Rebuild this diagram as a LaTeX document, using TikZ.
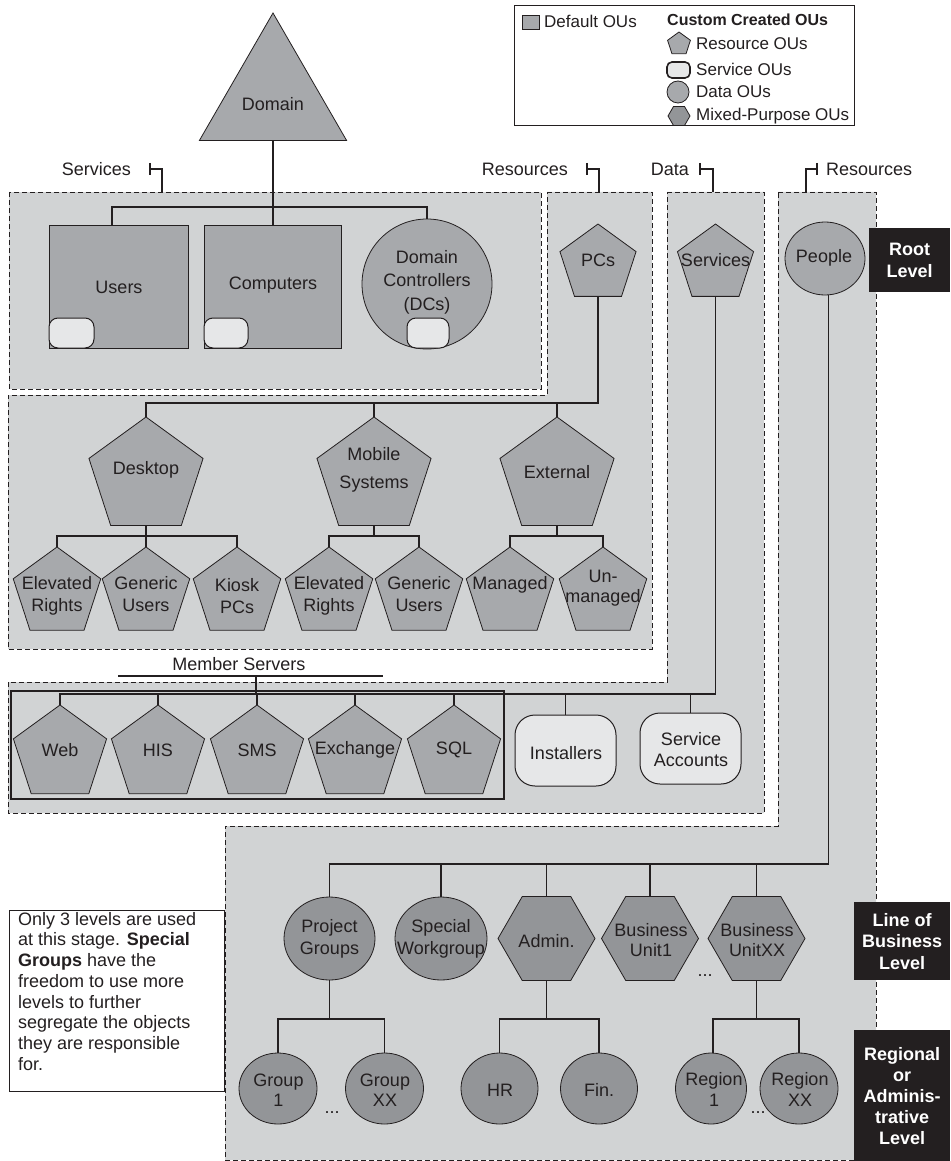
\documentclass[tikz,border=0pt]{standalone}
\usepackage{fontspec}
\setmainfont{Liberation Sans}
\usetikzlibrary{shapes.geometric,calc}

\definecolor{ink}{HTML}{231F20}
\definecolor{regionfill}{HTML}{D1D3D4}
\definecolor{ougray}{HTML}{A7A9AC}
\definecolor{oudark}{HTML}{939598}
\definecolor{svcfill}{HTML}{E6E7E8}

\begin{document}
\begin{tikzpicture}[x=1pt,y=-1pt,
  region/.style={draw=ink,fill=regionfill,line width=0.9pt,dash pattern=on 5pt off 3pt},
  conn/.style={draw=ink,line width=1.1pt},
  defou/.style={rectangle,draw=ink,fill=ougray,line width=0.8pt,inner sep=0pt,outer sep=0pt},
  pent/.style={regular polygon,regular polygon sides=5,draw=ink,fill=ougray,line width=0.8pt,inner sep=0pt,outer sep=0pt},
  hexa/.style={regular polygon,regular polygon sides=6,draw=ink,fill=oudark,line width=0.8pt,inner sep=0pt,outer sep=0pt},
  dataou/.style={ellipse,draw=ink,fill=oudark,line width=0.8pt,inner sep=0pt,outer sep=0pt},
  svcou/.style={rectangle,draw=ink,fill=svcfill,line width=1pt,inner sep=0pt,outer sep=0pt},
  txt/.style={inner sep=0pt,align=center,text=ink,font=\fontsize{18}{21.5}\selectfont},
  lgtxt/.style={inner sep=0pt,anchor=west,text=ink,font=\fontsize{17}{20}\selectfont},
  lvl/.style={rectangle,fill=ink,text=white,inner sep=0pt,anchor=north west,align=center,
              font=\bfseries\fontsize{18}{21.5}\selectfont},
  dots/.style={inner sep=0pt,text=ink,font=\fontsize{18}{20}\selectfont}
]
\useasboundingbox (0,0) rectangle (950,1161);
\fill[white] (0,0) rectangle (950,1161);

% ---------- shaded OU regions ----------
\path[region] (9,192) rectangle (541,389);
\path[region] (547,192) -- (652,192) -- (652,649) -- (8,649) -- (8,395) -- (547,395) -- cycle;
\path[region] (667,192) -- (764,192) -- (764,813) -- (8,813) -- (8,682) -- (667,682) -- cycle;
\path[region] (778,192) -- (876,192) -- (876,1160) -- (225,1160) -- (225,826) -- (778,826) -- cycle;

% ---------- region labels with brackets ----------
\node[txt,anchor=east] (lblSvc) at (131,169) {Services};
\node[txt,anchor=east] (lblRes) at (568,169) {Resources};
\node[txt,anchor=east] (lblData) at (689,169) {Data};
\node[txt,anchor=west] (lblRes2) at (826,169) {Resources};
\coordinate (bkA) at (150,169);
\coordinate (bkB) at (587,169);
\coordinate (bkC) at (700,169);
\coordinate (bkD) at (817,169);
\draw[conn] ([yshift=6pt]bkA) -- ([yshift=-6pt]bkA);
\draw[conn] (bkA) -- ++(12,0) -- ++(0,23);
\draw[conn] ([yshift=6pt]bkB) -- ([yshift=-6pt]bkB);
\draw[conn] (bkB) -- ++(12,0) -- ++(0,23);
\draw[conn] ([yshift=6pt]bkC) -- ([yshift=-6pt]bkC);
\draw[conn] (bkC) -- ++(13,0) -- ++(0,23);
\draw[conn] ([yshift=6pt]bkD) -- ([yshift=-6pt]bkD);
\draw[conn] (bkD) -- ++(-11,0) -- ++(0,23);

% ---------- legend ----------
\node[draw=ink,line width=0.9pt,fill=white,anchor=north west,minimum width=340pt,minimum height=120pt,inner sep=0pt] (legend) at (514,5) {};
\node[defou,minimum width=17pt,minimum height=14pt] (lgDef) at (530.5,22) {};
\node[lgtxt] (lgDefT) at (544,21) {Default OUs};
\node[lgtxt,font=\bfseries\fontsize{16}{20}\selectfont] (lgCust) at (667,20) {Custom Created OUs};
\node[pent,minimum size=24pt] (lgRes) at (679,44) {};
\node[lgtxt] (lgResT) at (696,44) {Resource OUs};
\node[svcou,rounded corners=5pt,minimum width=23pt,minimum height=16pt,line width=1.6pt] (lgSvc) at (678.5,70) {};
\node[lgtxt] (lgSvcT) at (696,69) {Service OUs};
\node[dataou,fill=ougray,minimum width=22pt,minimum height=22pt] (lgData) at (678,92) {};
\node[lgtxt] (lgDataT) at (696,92) {Data OUs};
\node[hexa,minimum size=22pt] (lgMix) at (679,116) {};
\node[lgtxt] (lgMixT) at (696,116) {Mixed-Purpose OUs};

% ---------- domain and default OUs ----------
\node[regular polygon,regular polygon sides=3,minimum size=170pt,draw=ink,fill=ougray,line width=0.8pt,inner sep=0pt,outer sep=0pt] (domain) at (273,98) {};
\node[txt] (domainT) at (273,104) {Domain};

\node[defou,minimum width=139pt,minimum height=123pt] (users) at (118.5,286.5) {};
\node[txt] (usersT) at (119,287) {Users};
\node[defou,minimum width=137pt,minimum height=123pt] (comp) at (272.5,286.5) {};
\node[txt] (compT) at (273,285) {Computers};
\node[dataou,fill=ougray,minimum width=130pt,minimum height=130pt] (dc) at (427,284) {};
\node[txt,font=\fontsize{18}{23.5}\selectfont] (dcT) at (427,282) {Domain\\Controllers\\(DCs)};
\node[svcou,rounded corners=9pt,minimum width=45pt,minimum height=30pt] (usersSvc) at (71.5,333) {};
\node[svcou,rounded corners=9pt,minimum width=44pt,minimum height=30pt] (compSvc) at (226,333) {};
\node[svcou,rounded corners=9pt,minimum width=42pt,minimum height=30pt] (dcSvc) at (428,333) {};

% ---------- root level OUs ----------
\node[pent,minimum size=80pt] (pcs) at (598,264) {};
\node[txt] (pcsT) at (598,260) {PCs};
\node[pent,minimum size=80pt] (svc) at (715.5,264) {};
\node[txt] (svcT) at (715.5,260) {Services};
\node[dataou,fill=ougray,minimum width=80pt,minimum height=73pt] (people) at (825,258.5) {};
\node[txt] (peopleT) at (824,258) {People};

% ---------- PCs subtree ----------
\node[pent,minimum size=120pt] (desk) at (146,477) {};
\node[txt] (deskT) at (146,470) {Desktop};
\node[pent,minimum size=120pt] (mob) at (374,477) {};
\node[txt,font=\fontsize{18}{28}\selectfont] (mobT) at (374,470) {Mobile\\Systems};
\node[pent,minimum size=120pt] (ext) at (557,477) {};
\node[txt] (extT) at (557,472) {External};

\node[pent,minimum size=92pt] (er1) at (57,593) {};
\node[txt] (er1T) at (57,596) {Elevated\\Rights};
\node[pent,minimum size=92pt] (gu1) at (146,593) {};
\node[txt] (gu1T) at (146,594) {Generic\\Users};
\node[pent,minimum size=92pt] (kiosk) at (237,593) {};
\node[txt] (kioskT) at (237,596) {Kiosk\\PCs};
\node[pent,minimum size=92pt] (er2) at (329,593) {};
\node[txt] (er2T) at (329,596) {Elevated\\Rights};
\node[pent,minimum size=92pt] (gu2) at (419,593) {};
\node[txt] (gu2T) at (419,594) {Generic\\Users};
\node[pent,minimum size=92pt] (mgd) at (510,593) {};
\node[txt] (mgdT) at (510,585) {Managed};
\node[pent,minimum size=92pt] (unm) at (603,593) {};
\node[txt,font=\fontsize{18}{20}\selectfont] (unmT) at (603,588) {Un-\\managed};

% ---------- services subtree ----------
\node[txt] (msLbl) at (239,664) {Member Servers};
\coordinate (msL) at (118,676);
\coordinate (msR) at (383,676);
\coordinate (msJ) at (256,676);
\draw[draw=ink,line width=2.2pt] (msL) -- (msR);
\node[draw=ink,line width=2.4pt,anchor=north west,minimum width=493pt,minimum height=108pt,inner sep=0pt] (msFrame) at (10,690) {};

\node[pent,minimum size=98pt] (web) at (60,754) {};
\node[txt] (webT) at (60,750) {Web};
\node[pent,minimum size=98pt] (his) at (158,754) {};
\node[txt] (hisT) at (158,750) {HIS};
\node[pent,minimum size=98pt] (sms) at (257,754) {};
\node[txt] (smsT) at (257,750) {SMS};
\node[pent,minimum size=98pt] (exch) at (355,754) {};
\node[txt] (exchT) at (355,750) {Exchange};
\node[pent,minimum size=98pt] (sql) at (454,754) {};
\node[txt] (sqlT) at (454,750) {SQL};

\node[svcou,rounded corners=20pt,minimum width=101pt,minimum height=71pt] (inst) at (565.5,750.5) {};
\node[txt] (instT) at (566,753) {Installers};
\node[svcou,rounded corners=20pt,minimum width=101pt,minimum height=71pt] (sacc) at (690.5,748.5) {};
\node[txt,font=\fontsize{18}{21}\selectfont] (saccT) at (691,750) {Service\\Accounts};

% ---------- people subtree ----------
\node[dataou,minimum width=91pt,minimum height=83pt] (pg) at (329.5,938.5) {};
\node[txt,font=\fontsize{18}{22}\selectfont] (pgT) at (329.5,939) {Project\\Groups};
\node[dataou,minimum width=92pt,minimum height=83pt] (sw) at (441,938.5) {};
\node[txt,font=\fontsize{18}{22}\selectfont] (swT) at (441,939) {Special\\Workgroup};
\node[hexa,minimum size=97pt] (adm) at (546.5,938.5) {};
\node[txt] (admT) at (546.5,941) {Admin.};
\node[hexa,minimum size=97pt] (bu1) at (650,938.5) {};
\node[txt,font=\fontsize{18}{20.5}\selectfont] (bu1T) at (651,940) {Business\\Unit1};
\node[hexa,minimum size=97pt] (buxx) at (756.5,938.5) {};
\node[txt,font=\fontsize{18}{20.5}\selectfont] (buxxT) at (757,940) {Business\\UnitXX};
\node[dots] (dotsBU) at (705,976) {...};

\node[dataou,minimum width=78pt,minimum height=71pt] (g1) at (278,1088.5) {};
\node[txt,font=\fontsize{18}{20}\selectfont] (g1T) at (278.5,1090) {Group\\1};
\node[dataou,minimum width=78pt,minimum height=71pt] (gxx) at (384.5,1088.5) {};
\node[txt,font=\fontsize{18}{20}\selectfont] (gxxT) at (385,1090) {Group\\XX};
\node[dots] (dotsG) at (332,1113) {...};
\node[dataou,minimum width=77pt,minimum height=71pt] (hr) at (499.5,1088.5) {};
\node[txt] (hrT) at (500,1090) {HR};
\node[dataou,minimum width=77pt,minimum height=71pt] (fin) at (599,1088.5) {};
\node[txt] (finT) at (599,1090) {Fin.};
\node[dataou,minimum width=71pt,minimum height=71pt] (r1) at (711,1088.5) {};
\node[txt,font=\fontsize{18}{21}\selectfont] (r1T) at (714,1089) {Region\\1};
\node[dataou,minimum width=78pt,minimum height=71pt] (rxx) at (799,1088.5) {};
\node[txt,font=\fontsize{18}{21}\selectfont] (rxxT) at (800,1089) {Region\\XX};
\node[dots] (dotsR) at (758,1113) {...};

% ---------- connector levels ----------
\coordinate (yA) at (0,207);
\coordinate (yPC) at (0,403);
\coordinate (yL2) at (0,536);
\coordinate (yMS) at (0,694);
\coordinate (yP) at (0,864);
\coordinate (yL3) at (0,1019);

\draw[conn] (domain.south) -- (domain.south |- comp.north);
\draw[conn] ([xshift=-6.5pt]users.north) |- (yA -| dc.north) -- (dc.north);

\draw[conn] (pcs.south) |- (yPC -| desk.north) -- (desk.north);
\draw[conn] (mob.north) -- (mob.north |- yPC);
\draw[conn] (ext.north) -- (ext.north |- yPC);

\draw[conn] (desk.south) -- (desk.south |- yL2);
\draw[conn] (er1.north) |- (yL2 -| kiosk.north) -- (kiosk.north);
\draw[conn] (gu1.north) -- (gu1.north |- yL2);
\draw[conn] (mob.south) -- (mob.south |- yL2);
\draw[conn] (er2.north) |- (yL2 -| gu2.north) -- (gu2.north);
\draw[conn] (ext.south) -- (ext.south |- yL2);
\draw[conn] (mgd.north) |- (yL2 -| unm.north) -- (unm.north);

\draw[conn] (svc.south) |- (yMS -| web.north) -- (web.north);
\draw[conn] (msJ) -- (msJ |- yMS);
\foreach \n in {his,sms,exch,sql,inst,sacc}
  \draw[conn] (\n.north) -- (\n.north |- yMS);

\draw[conn] ([xshift=3.5pt]people.south) |- (yP -| pg.north) -- (pg.north);
\foreach \n in {sw,adm,bu1,buxx}
  \draw[conn] (\n.north) -- (\n.north |- yP);

\draw[conn] (pg.south) -- (pg.south |- yL3);
\draw[conn] (g1.north) |- (yL3 -| gxx.north) -- (gxx.north);
\draw[conn] (adm.south) -- (adm.south |- yL3);
\draw[conn] (hr.north) |- (yL3 -| fin.north) -- (fin.north);
\draw[conn] (buxx.south) -- (buxx.south |- yL3);
\draw[conn] ([xshift=2pt]r1.north) |- (yL3 -| rxx.north) -- (rxx.north);

% ---------- note ----------
\node[draw=ink,line width=0.9pt,fill=white,anchor=north west,minimum width=215pt,minimum height=181pt,inner sep=0pt] (note) at (9,910) {};
\node[inner sep=0pt,anchor=north west,align=left,text=ink,font=\fontsize{18}{20.7}\selectfont] (noteT) at (18,912)
  {Only 3 levels are used\\at this stage. \textbf{Special}\\\textbf{Groups} have the\\freedom to use more\\levels to further\\segregate the objects\\they are responsible\\for.};

% ---------- level tags ----------
\node[lvl,minimum width=81pt,minimum height=64pt] (lvRoot) at (869,228) {Root\\Level};
\node[lvl,minimum width=96pt,minimum height=78pt] (lvLob) at (854,902) {Line of\\Business\\Level};
\node[lvl,minimum width=96pt,minimum height=131pt,font=\bfseries\fontsize{18}{21}\selectfont] (lvReg) at (854,1030) {Regional\\or\\Adminis-\\trative\\Level};
\end{tikzpicture}
\end{document}
